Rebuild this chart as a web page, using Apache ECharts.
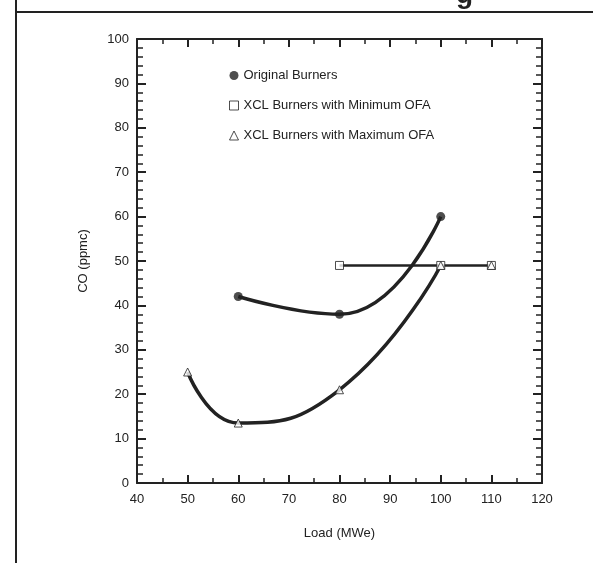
<!DOCTYPE html>
<html>
<head>
<meta charset="utf-8">
<script src="https://cdn.jsdelivr.net/npm/echarts@6/dist/echarts.min.js"></script>
<style>html,body{margin:0;padding:0;background:#fff}#c{width:593px;height:563px}</style>
</head>
<body>
<div id="c"></div>
<script>
var origX = [60, 80, 100];
var origY = [42, 38, 60];
var minX = [80, 100, 110];
var minY = [49, 49, 49];
var maxX = [50, 60, 80, 100, 110];
var maxY = [25, 13.5, 21, 49, 49];
var maxCurveCount = 4;
var names = ['Original Burners', 'XCL Burners with Minimum OFA', 'XCL Burners with Maximum OFA'];

function pts(xs, ys, n) { var r = []; for (var i = 0; i < (n || xs.length); i++) r.push([xs[i], ys[i]]); return r; }

var ink = '#222';
var font = 'Liberation Sans, Arial, sans-serif';
var chart = echarts.init(document.getElementById('c'));
var axisCommon = {
  type: 'value', min: 0, max: 100, interval: 10,
  axisLine: { show: true, onZero: false, lineStyle: { color: ink, width: 2 } },
  axisTick: { show: true, inside: true, length: 9, lineStyle: { color: ink, width: 2 } },
  minorTick: { show: true, splitNumber: 5, length: 6, lineStyle: { color: ink, width: 1.5 } },
  splitLine: { show: false }, minorSplitLine: { show: false }
};
var xCommon = Object.assign({}, axisCommon, { min: 40, max: 120, interval: 10,
  axisTick: { show: true, inside: true, length: 8, lineStyle: { color: ink, width: 2 } },
  minorTick: { show: true, splitNumber: 2, length: 5, lineStyle: { color: ink, width: 1.5 } } });

chart.setOption({
  animation: false,
  grid: { left: 137, right: 51, top: 39, bottom: 80 },
  xAxis: [
    Object.assign({}, xCommon, { position: 'bottom', name: 'Load (MWe)', nameLocation: 'middle', nameGap: 44,
      nameTextStyle: { color: ink, fontSize: 13, fontFamily: font },
      axisLabel: { color: ink, fontSize: 13, fontFamily: font, margin: 10 } }),
    Object.assign({}, xCommon, { position: 'top', axisLabel: { show: false } })
  ],
  yAxis: [
    Object.assign({}, axisCommon, { position: 'left', name: 'CO (ppmc)', nameLocation: 'middle', nameGap: 47,
      nameTextStyle: { color: ink, fontSize: 13, fontFamily: font },
      axisLabel: { color: ink, fontSize: 13, fontFamily: font, margin: 8 } }),
    Object.assign({}, axisCommon, { position: 'right', axisLabel: { show: false } })
  ],
  legend: {
    orient: 'vertical', left: 224, top: 64, itemGap: 17, itemWidth: 9, itemHeight: 9,
    itemStyle: { borderWidth: 1 },
    textStyle: { color: ink, fontSize: 13, fontFamily: font },
    data: names
  },
  graphic: [
    { type: 'line', shape: { x1: 16, y1: 0, x2: 16, y2: 563 }, style: { stroke: ink, lineWidth: 2 } },
    { type: 'line', shape: { x1: 16, y1: 12, x2: 593, y2: 12 }, style: { stroke: ink, lineWidth: 2 } },
    { type: 'text', x: 456, y: 9, style: { text: 'g', font: 'bold 28px Liberation Sans, Arial', fill: ink, verticalAlign: 'bottom' } }
  ],
  series: [
    { type: 'line', data: pts(origX, origY), smooth: 0.5, showSymbol: false, symbol: 'none',
      lineStyle: { color: ink, width: 3.5 }, z: 2 },
    { type: 'line', data: pts(maxX, maxY, maxCurveCount), smooth: 0.5, showSymbol: false, symbol: 'none',
      lineStyle: { color: ink, width: 3.5 }, z: 2 },
    { type: 'line', data: pts(minX, minY), showSymbol: false, symbol: 'none',
      lineStyle: { color: ink, width: 2.5 }, z: 2 },
    { name: names[0], type: 'scatter', data: pts(origX, origY), symbol: 'circle', symbolSize: 9,
      itemStyle: { color: ink }, z: 5 },
    { name: names[1], type: 'scatter', data: pts(minX, minY), symbol: 'rect', symbolSize: 8,
      itemStyle: { color: '#fff', borderColor: ink, borderWidth: 1 }, z: 5 },
    { name: names[2], type: 'scatter', data: pts(maxX, maxY), symbol: 'triangle', symbolSize: 8,
      itemStyle: { color: '#fff', borderColor: ink, borderWidth: 1 }, z: 6 }
  ]
});
</script>
</body>
</html>
